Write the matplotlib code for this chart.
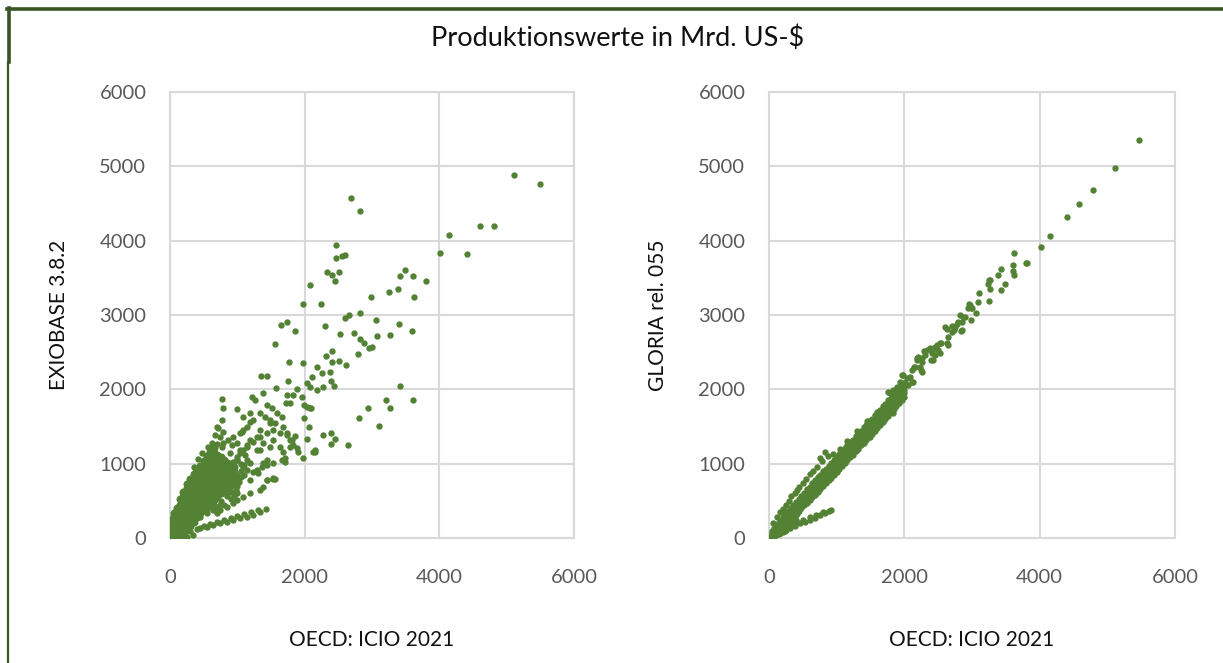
import matplotlib
matplotlib.use("Agg")
import matplotlib.pyplot as plt
from matplotlib.lines import Line2D

# ---- data (Mrd. US-$) ----
title = "Produktionswerte in Mrd. US-$"
x_label = "OECD: ICIO 2021"
y_labels = ["EXIOBASE 3.8.2", "GLORIA rel. 055"]
x_ticks = [0, 2000, 4000, 6000]
y_ticks = [0, 1000, 2000, 3000, 4000, 5000, 6000]

# EXIOBASE: scattered points
exio_pts = [
    (5108, 4883), (5494, 4761), (2688, 4573), (2822, 4398), (4604, 4196), (4811, 4196),
    (4143, 4075), (4010, 3833), (4411, 3820), (2465, 3941), (2599, 3806), (2554, 3793),
    (2465, 3766), (2331, 3578), (2406, 3537), (2510, 3578), (2450, 3457), (2079, 3403),
    (1975, 3147), (2242, 3147), (3490, 3605), (3416, 3524), (3609, 3524), (3802, 3457),
    (3252, 3309), (3386, 3349), (2985, 3241), (3624, 3241), (2822, 3026), (2658, 3000),
    (2599, 2959), (3059, 2932), (3401, 2878), (3594, 2784), (3267, 2730), (3074, 2717),
    (2732, 2757), (2525, 2744), (2822, 2677), (2881, 2623), (3000, 2569), (2955, 2555),
    (2792, 2475), (2302, 2851), (1648, 2865), (1737, 2905), (1856, 2784), (1559, 2609),
    (2406, 2515), (2316, 2448), (1767, 2367), (1975, 2354), (2183, 2300), (2406, 2367),
    (2510, 2381), (2614, 2327), (1351, 2179), (1440, 2179), (1752, 2112), (2376, 2233),
    (2257, 2219), (2109, 2165), (2391, 2112), (1574, 2017), (2435, 2044), (3416, 2044),
    (3208, 1856), (3609, 1856), (3267, 1749), (2941, 1749), (2807, 1614), (3104, 1506),
    (2643, 1251), (2391, 1412), (2450, 1332), (2391, 1264), (2272, 1385), (2153, 1157),
    (2035, 1332), (1975, 1076), (2064, 1493), (1990, 1614), (2094, 1749), (772, 1870),
    (787, 1749), (995, 1735), (1218, 1896), (1262, 1856), (1381, 1950), (1737, 1923),
    (1827, 1923), (1886, 2004), (2035, 2085), (2079, 2031), (2183, 1990), (2272, 2031),
    (1960, 1896), (1990, 1789), (1723, 1816), (1782, 1816), (1440, 1789), (1515, 1749),
    (1589, 1681), (1663, 1627), (1336, 1681), (1411, 1627), (1485, 1587), (1559, 1547),
    (1188, 1681), (1232, 1587), (1084, 1627), (1143, 1493), (1069, 1426), (1678, 1493),
    (1737, 1412), (1782, 1318), (1827, 1251), (1856, 1372), (1440, 1412), (1530, 1318),
    (1634, 1224), (1678, 1157), (1708, 1022), (1336, 1358), (1381, 1278), (1440, 1049),
    (1188, 1318), (1292, 1184), (1381, 1009), (936, 1358), (995, 1278), (1040, 1184),
    (1143, 1224), (891, 1143), (995, 1049), (1084, 955), (1188, 1009), (1292, 915),
    (1188, 780), (1440, 780), (1530, 807), (698, 1493), (743, 1358), (787, 1278),
    (668, 1385), (2035, 1762), (2079, 1749), (2153, 1184), (2124, 1157), (1886, 1211),
    (1901, 1157), (1708, 1076), (1663, 1049), (1530, 1009), (1440, 982), (1366, 955),
    (1782, 1224), (1811, 1318), (1737, 1385), (1634, 1412), (1530, 1453), (1485, 1547),
    (1336, 1453), (1292, 1358), (1232, 1291), (1143, 1251), (1084, 1184), (1040, 1143),
    (995, 1090), (936, 1022), (921, 955), (772, 1587), (713, 1480), (787, 1426),
    (861, 1318), (772, 1224), (921, 1251), (1040, 1412), (1084, 1453), (1188, 1560),
    (1336, 1184), (1485, 1224), (1143, 915), (1232, 888), (1010, 780),
    (1000, 700), (1000, 850), (1050, 900), (1050, 1000), (1100, 980), (1000, 1050),
    (980, 650), (1020, 760), (1100, 850), (1150, 1050), (1060, 820), (1120, 1120),
    (700, 1260), (620, 1280), (560, 1230), (480, 1150), (420, 1060), (360, 960),
]

# EXIOBASE: branch with lower ratio (~0.5)
exio_mid_pts = [
    (743, 376), (846, 417), (936, 470), (995, 511), (1084, 551), (1188, 605),
    (1336, 646), (1381, 686), (1440, 780), (1530, 793), (1300, 870), (1560, 800),
    (594, 511), (698, 551), (787, 646), (891, 686), (995, 780), (743, 444),
    (639, 376), (549, 336), (445, 282), (698, 336),
    (650, 440), (750, 500), (850, 560), (900, 620), (800, 440), (900, 520),
    (1000, 600), (550, 380), (700, 420), (600, 430), (820, 610), (950, 560),
]

# EXIOBASE: lowest branch (~0.3)
exio_low_pts = [
    (148, 0), (252, 13), (342, 40), (445, 134), (549, 148), (639, 175), (743, 202),
    (846, 215), (936, 242), (1040, 269), (1143, 282), (1232, 309), (1336, 350),
    (1421, 390), (300, 90), (400, 120), (500, 160), (600, 190), (700, 215), (800, 240),
    (900, 265), (1000, 290), (1100, 320), (1200, 345), (1300, 370), (60, 5), (200, 30),
]

# EXIOBASE: dense core near the origin
exio_core_x = (
    [20] * 5 + [60] * 6 + [100] * 7 + [150] * 8 + [200] * 9 + [250] * 10
    + [300] * 10 + [350] * 10 + [400] * 10 + [450] * 10 + [500] * 10 + [550] * 10
    + [600] * 11 + [650] * 11 + [700] * 9 + [750] * 8 + [800] * 7 + [850] * 6
    + [900] * 5 + [950] * 4
)
exio_core_y = [
    10, 70, 130, 190, 240,
    10, 80, 150, 220, 290, 330,
    20, 90, 160, 230, 300, 370, 410,
    30, 100, 170, 240, 310, 380, 450, 520,
    60, 130, 200, 270, 340, 410, 480, 550, 620,
    110, 180, 250, 320, 390, 460, 530, 600, 670, 730,
    160, 230, 300, 370, 440, 510, 580, 650, 720, 800,
    220, 290, 360, 430, 500, 570, 640, 710, 780, 860,
    280, 350, 420, 490, 560, 630, 700, 770, 840, 910,
    330, 400, 470, 540, 610, 680, 750, 820, 890, 970,
    380, 450, 520, 590, 660, 730, 800, 870, 940, 1040,
    430, 500, 570, 640, 710, 780, 850, 920, 990, 1100,
    470, 540, 610, 680, 750, 820, 890, 960, 1030, 1100, 1160,
    510, 580, 650, 720, 790, 860, 930, 1000, 1070, 1140, 1210,
    560, 630, 700, 770, 840, 910, 980, 1050, 1120,
    600, 670, 740, 810, 880, 950, 1020, 1090,
    630, 700, 770, 840, 910, 980, 1050,
    660, 730, 800, 870, 940, 1010,
    710, 780, 850, 920, 990,
    750, 820, 890, 960,
]

# GLORIA: scattered points along the diagonal
glo_pts = [
    (5469, 5353), (5114, 4977), (4789, 4681), (4582, 4492), (4404, 4317), (4153, 4062),
    (4020, 3914), (3621, 3833), (3798, 3699), (3606, 3672), (3429, 3618), (3385, 3537),
    (3621, 3537), (3606, 3590), (3488, 3416), (3252, 3470), (3237, 3416), (3266, 3349),
    (3429, 3336), (3104, 3295), (3252, 3188), (3089, 3174), (2956, 3147), (2986, 3094),
    (3060, 3026), (2823, 3000), (2867, 2972), (2986, 2932), (2838, 2784), (2700, 2850),
    (2740, 2800), (2780, 2880), (2542, 2623), (2646, 2596), (2453, 2569), (2424, 2542),
    (2291, 2515), (2188, 2421), (2394, 2394), (2261, 2367), (2247, 2260), (2143, 2300),
    (1966, 2192), (2084, 2165), (2128, 2098), (3813, 3699), (3266, 3470), (2971, 3134),
    (3000, 3094), (2941, 3094), (2897, 2972), (2793, 2905), (2853, 2905), (2749, 2838),
    (2853, 2798), (2705, 2771), (2631, 2811), (2601, 2838), (2646, 2704), (2631, 2623),
    (2527, 2623), (2483, 2596), (2380, 2555), (2335, 2529), (2498, 2529), (2527, 2488),
    (2409, 2488), (2453, 2461), (2424, 2394), (2306, 2461), (2261, 2421), (2202, 2434),
    (2188, 2394), (2232, 2300), (2261, 2233), (2158, 2300), (2114, 2260), (1981, 2192),
    (2040, 2152), (2010, 2085), (2054, 2058), (2114, 2098), (1936, 2098), (1892, 2031),
    (1833, 1990), (1966, 1964), (1788, 1950), (1759, 1964), (1833, 1681), (1493, 1358),
]

# GLORIA: main band, five rows per x value
glo_band_x = [40, 80, 120, 160, 200, 240, 280, 320, 360, 400, 440, 480, 520, 560, 600, 640, 680,
              720, 760, 800, 840, 880, 920, 960, 1000, 1040, 1080, 1120, 1160, 1200, 1240, 1280,
              1320, 1360, 1400, 1440, 1480, 1520, 1560, 1600, 1640, 1680, 1720, 1760, 1800, 1840,
              1880, 1920, 1960, 2000]
glo_band_lo = [10, 45, 80, 110, 150, 185, 215, 255, 290, 330, 365, 400, 440, 470, 510, 545, 585,
               620, 660, 700, 735, 775, 810, 850, 890, 930, 965, 1010, 1045, 1090, 1120, 1165,
               1200, 1245, 1280, 1320, 1360, 1400, 1445, 1480, 1520, 1560, 1600, 1640, 1690, 1730,
               1770, 1810, 1850, 1900]
glo_band_q1 = [25, 65, 100, 140, 180, 215, 250, 290, 325, 365, 400, 440, 480, 515, 555, 590, 630,
               670, 710, 745, 785, 825, 860, 900, 940, 980, 1020, 1060, 1100, 1140, 1180, 1220,
               1255, 1300, 1340, 1375, 1415, 1460, 1495, 1535, 1575, 1615, 1655, 1695, 1740, 1780,
               1820, 1860, 1900, 1945]
glo_band_mid = [40, 85, 125, 165, 205, 245, 285, 320, 365, 400, 440, 480, 520, 560, 600, 640, 680,
                715, 760, 795, 835, 875, 915, 955, 990, 1035, 1075, 1115, 1150, 1195, 1235, 1275,
                1310, 1355, 1395, 1430, 1475, 1515, 1550, 1590, 1635, 1670, 1715, 1750, 1795, 1830,
                1875, 1915, 1950, 1990]
glo_band_q3 = [65, 110, 155, 200, 240, 285, 325, 360, 405, 445, 485, 525, 565, 605, 645, 690, 725,
               765, 805, 845, 885, 920, 960, 1000, 1040, 1080, 1120, 1160, 1200, 1240, 1280, 1320,
               1360, 1400, 1440, 1480, 1520, 1560, 1600, 1640, 1680, 1720, 1760, 1800, 1840, 1880,
               1920, 1960, 2000, 2040]
glo_band_hi = [90, 140, 190, 235, 280, 320, 365, 405, 445, 490, 530, 570, 610, 655, 690, 735, 775,
               815, 850, 895, 930, 970, 1010, 1050, 1090, 1125, 1170, 1210, 1245, 1290, 1325, 1370,
               1410, 1445, 1490, 1525, 1570, 1605, 1650, 1690, 1725, 1770, 1805, 1850, 1890, 1925,
               1970, 2010, 2050, 2090]

# GLORIA: upper finger, wedge near origin, lower branch
glo_extra_pts = [
    (60, 200), (120, 280), (163, 350), (200, 390), (250, 450), (300, 500), (330, 560),
    (380, 600), (414, 646), (450, 680), (500, 740), (550, 790), (600, 860), (650, 900),
    (709, 955), (754, 1076), (780, 1040), (828, 1157), (870, 1100), (950, 1130),
    (1050, 1200), (1150, 1300), (1300, 1440), (1450, 1580),
    (30, 10), (60, 25), (90, 40), (120, 55), (150, 70), (180, 90), (210, 110), (240, 130),
    (270, 150), (300, 170), (330, 190), (360, 210), (400, 240), (60, 50), (100, 70),
    (140, 95), (180, 130), (220, 160), (260, 190), (300, 220), (340, 250), (380, 290),
    (420, 320), (20, 30), (50, 20), (100, 40), (150, 50), (200, 80), (250, 110),
    (80, 30), (163, 67), (240, 100), (310, 134), (380, 165), (458, 202), (530, 220),
    (606, 242), (680, 275), (754, 309), (830, 340), (880, 360), (916, 377),
    (300, 160), (400, 200), (500, 240), (600, 280), (700, 310), (800, 345),
]

green = "#548235"
grid_c = "#d9d9d9"
tick_c = "#595959"
plt.rcParams["font.family"] = ["Lato", "DejaVu Sans"]

fig = plt.figure(figsize=(12.23, 6.63), dpi=100)
ax1 = fig.add_axes([170 / 1223, 1 - 538 / 663, 404 / 1223, 446 / 663])
ax2 = fig.add_axes([769 / 1223, 1 - 538 / 663, 406 / 1223, 446 / 663])

def style(ax, ylab):
    ax.set_xlim(0, 6000)
    ax.set_ylim(0, 6000)
    ax.set_xticks(x_ticks)
    ax.set_yticks(y_ticks)
    ax.grid(True, color=grid_c, linewidth=1.5, zorder=0)
    ax.set_axisbelow(True)
    for s in ax.spines.values():
        s.set_color(grid_c)
        s.set_linewidth(1.5)
    ax.tick_params(length=0, labelsize=14.5, colors=tick_c)
    ax.tick_params(axis="y", pad=17)
    ax.tick_params(axis="x", pad=22)
    ax.set_xlabel(x_label, fontsize=15, color="#111111", labelpad=32)
    ax.set_ylabel(ylab, fontsize=15, color="#111111", labelpad=22)

ms = 21
ax1.scatter([p[0] for p in exio_pts], [p[1] for p in exio_pts], s=ms, color=green, lw=0, zorder=3)
ax1.scatter([p[0] for p in exio_mid_pts], [p[1] for p in exio_mid_pts], s=ms, color=green, lw=0, zorder=3)
ax1.scatter([p[0] for p in exio_low_pts], [p[1] for p in exio_low_pts], s=ms, color=green, lw=0, zorder=3)
ax1.scatter(exio_core_x, exio_core_y, s=ms * 1.6, color=green, lw=0, zorder=3)
style(ax1, y_labels[0])

for band in (glo_band_lo, glo_band_q1, glo_band_mid, glo_band_q3, glo_band_hi):
    ax2.scatter(glo_band_x, band, s=ms, color=green, lw=0, zorder=3)
ax2.scatter([p[0] for p in glo_pts], [p[1] for p in glo_pts], s=ms, color=green, lw=0, zorder=3)
ax2.scatter([p[0] for p in glo_extra_pts], [p[1] for p in glo_extra_pts], s=ms, color=green, lw=0, zorder=3)
style(ax2, y_labels[1])

fig.text(618 / 1223, 1 - 38 / 663, title, ha="center", va="center", fontsize=19.5, color="#111111")

# dark green frame (top and left edges)
border = "#375623"
fig.add_artist(Line2D([7 / 1223, 1], [1 - 8.5 / 663] * 2, color=border, lw=2.6))
fig.add_artist(Line2D([8.5 / 1223] * 2, [1 - 8 / 663, 1 - 62 / 663], color=border, lw=2.6))
fig.add_artist(Line2D([8 / 1223] * 2, [0, 1 - 62 / 663], color=border, lw=1.6))

fig.savefig("out.png", dpi=100, facecolor="white")
